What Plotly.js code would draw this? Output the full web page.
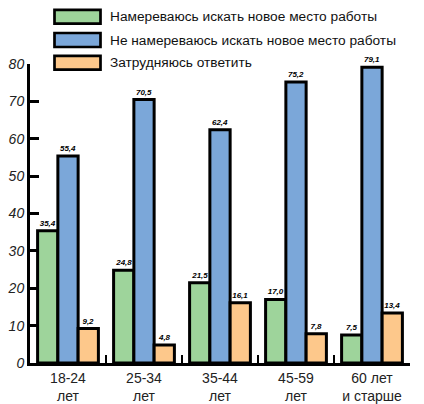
<!DOCTYPE html>
<html>
<head>
<meta charset="utf-8">
<script src="https://cdn.plot.ly/plotly-3.0.1.min.js"></script>
<style>html,body{margin:0;padding:0;background:#fff;}#chart{width:424px;height:404px;}</style>
</head>
<body>
<div id="chart"></div>
<script>
var categories = ["18-24<br>лет", "25-34<br>лет", "35-44<br>лет", "45-59<br>лет", "60 лет<br>и старше"];
var seriesNames = ["Намереваюсь искать новое место работы", "Не намереваюсь искать новое место работы", "Затрудняюсь ответить"];
var intendValues = [35.4, 24.8, 21.5, 17.0, 7.5];
var notIntendValues = [55.4, 70.5, 62.4, 75.2, 79.1];
var undecidedValues = [9.2, 4.8, 16.1, 7.8, 13.4];
var colors = ["#9ed49b", "#7ba7d9", "#fdc88b"];
var yTicks = [0, 10, 20, 30, 40, 50, 60, 70, 80];

var W = 424, H = 404;
var mL = 30, mR = 14, mT = 64, mB = 41;
var pw = W - mL - mR, ph = H - mT - mB;
function px(x) { return (x - mL) / pw; }
function py(y) { return (H - mB - y) / ph; }

var seriesValues = [intendValues, notIntendValues, undecidedValues];
var traces = seriesValues.map(function (vals, i) {
  return {
    type: "bar",
    x: categories,
    y: vals,
    name: seriesNames[i],
    marker: { color: colors[i], line: { color: "#000", width: 3 } },
    texttemplate: "%{y:.1f}",
    textposition: "outside",
    textfont: { family: "Liberation Sans, Arial, sans-serif", size: 8, style: "italic", weight: "bold", color: "#000" },
    cliponaxis: false,
    showlegend: false,
    hoverinfo: "skip"
  };
});

var shapes = [], annotations = [];
var rows = [[8.5, 25], [31.7, 48.3], [54.5, 71]];
rows.forEach(function (r, i) {
  shapes.push({
    type: "rect", xref: "paper", yref: "paper",
    x0: px(54.5), x1: px(100.5), y0: py(r[1] - 1.3), y1: py(r[0] + 1.3),
    fillcolor: colors[i], line: { color: "#000", width: 2.7 }
  });
  annotations.push({
    xref: "paper", yref: "paper", x: px(107.5), y: py((r[0] + r[1]) / 2),
    xanchor: "left", yanchor: "middle", showarrow: false,
    text: seriesNames[i],
    font: { family: "Liberation Sans, Arial, sans-serif", size: 13.7, color: "#111" }
  });
});

var layout = {
  width: W, height: H,
  margin: { l: mL, r: mR, t: mT, b: mB, pad: 0 },
  paper_bgcolor: "#fff", plot_bgcolor: "#fff",
  separators: ", ",
  barmode: "group",
  bargap: 0.2,
  bargroupgap: 0,
  showlegend: false,
  xaxis: {
    type: "category",
    range: [-0.5, 4.5],
    showline: true, linecolor: "#000", linewidth: 3,
    ticks: "inside", tickson: "boundaries", ticklen: 8, tickwidth: 2, tickcolor: "#000",
    showgrid: false, zeroline: false,
    tickfont: { family: "Liberation Sans, Arial, sans-serif", size: 14, color: "#222" }
  },
  yaxis: {
    range: [0, 80],
    tickvals: yTicks,
    showline: true, linecolor: "#000", linewidth: 3,
    ticks: "inside", ticklen: 9, tickwidth: 3, tickcolor: "#000",
    showgrid: false, zeroline: false,
    tickfont: { family: "Liberation Sans, Arial, sans-serif", size: 14, style: "italic", color: "#222" }
  },
  shapes: shapes,
  annotations: annotations
};

Plotly.newPlot("chart", traces, layout, { displayModeBar: false, staticPlot: true });
</script>
</body>
</html>
